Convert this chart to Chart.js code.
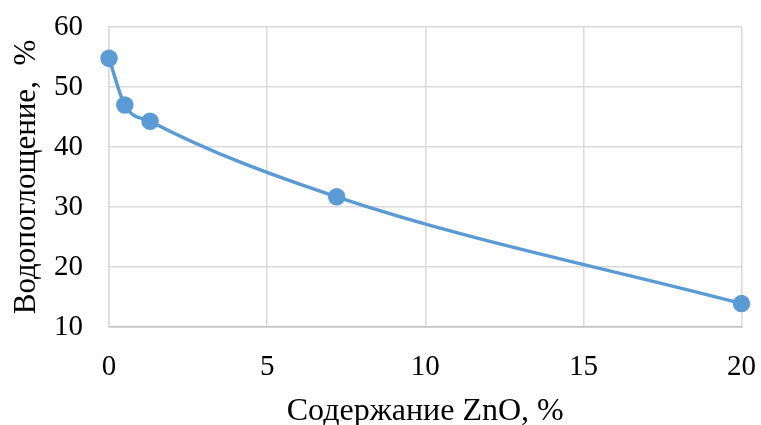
<!DOCTYPE html>
<html>
<head>
<meta charset="utf-8">
<script src="https://cdn.jsdelivr.net/npm/chart.js@4"></script>
<style>
  html, body { margin: 0; padding: 0; background: #fff; }
  #wrap { width: 761px; height: 425px; }
</style>
</head>
<body>
<div id="wrap"><canvas id="chart" width="761" height="425"></canvas></div>
<script>
// данные с графика
const znoContent = [0, 0.5, 1.3, 7.2, 20];
const waterAbsorption = [54.8, 47.0, 44.3, 31.7, 13.9];
const xTicks = [0, 5, 10, 15, 20];
const yTicks = [10, 20, 30, 40, 50, 60];

const FONT = "'Liberation Serif', 'Times New Roman', serif";
const BLUE = "#5b9bd5";
const NONE = "rgba(0,0,0,0)";

let points = znoContent.map((x, i) => ({ x: x, y: waterAbsorption[i] }));

let chart = new Chart(document.getElementById("chart"), {
  type: "line",
  data: {
    datasets: [{
      data: points,
      borderColor: BLUE,
      backgroundColor: BLUE,
      borderWidth: 3.5,
      pointRadius: 7,
      pointHoverRadius: 7,
      cubicInterpolationMode: "monotone",
      clip: false
    }]
  },
  options: {
    responsive: false,
    animation: false,
    layout: { padding: { top: 27, right: 16, bottom: 0, left: 0 } },
    plugins: { legend: { display: false }, tooltip: { enabled: false } },
    scales: {
      x: {
        type: "linear",
        min: 0, max: 20,
        afterBuildTicks: s => { s.ticks = xTicks.map(v => ({ value: v })); },
        afterFit: s => { s.height = 98; },
        // невидимые засечки только сдвигают подписи вниз
        grid: { color: "#d9d9d9", lineWidth: 1.5, drawTicks: true, tickLength: 18, tickColor: NONE },
        border: { display: true, color: "#bfbfbf", width: 1.5 },
        ticks: { color: "#000", font: { family: FONT, size: 29 }, padding: 5, maxRotation: 0 },
        title: { display: true, text: "Содержание ZnO, %", color: "#000", font: { family: FONT, size: 32 }, padding: { top: 0, bottom: -6 } }
      },
      y: {
        min: 10, max: 60,
        afterBuildTicks: s => { s.ticks = yTicks.map(v => ({ value: v })); },
        afterFit: s => { s.width = 109; },
        grid: { color: "#d9d9d9", lineWidth: 1.5, drawTicks: true, tickLength: 22, tickColor: NONE },
        border: { display: true, color: "#d9d9d9", width: 1.5 },
        ticks: { color: "#000", font: { family: FONT, size: 29 }, padding: 4 },
        title: { display: true, text: "Водопоглощение,  %", color: "#000", font: { family: FONT, size: 31 }, padding: { top: 8, bottom: 0 } }
      }
    }
  }
});
</script>
</body>
</html>
